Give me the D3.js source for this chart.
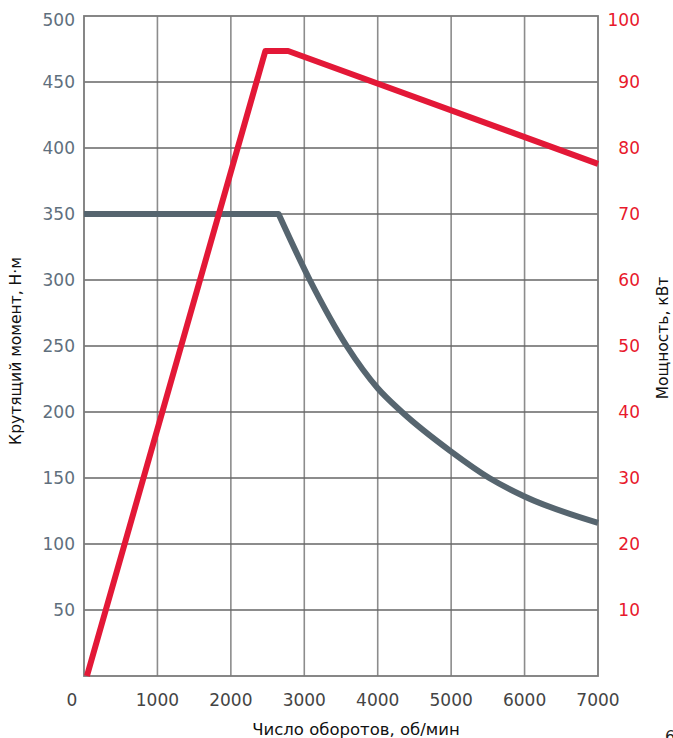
<!DOCTYPE html>
<html lang="ru">
<head>
    <meta charset="UTF-8">
    <title>Крутящий момент и мощность</title>
    <style>
        body { margin: 0; background: #fff; }
        text { font-family: "DejaVu Sans", sans-serif; }
    </style>
</head>
<body>

    <svg id="svg" width="673" height="738"></svg>

    <script src="https://d3js.org/d3.v7.min.js"></script>
    <script>
        // rpm ticks and axis labels
        const rpmTicks = [0, 1000, 2000, 3000, 4000, 5000, 6000, 7000]
        const torqueTicks = [50, 100, 150, 200, 250, 300, 350, 400, 450, 500]
        const powerTicks = [10, 20, 30, 40, 50, 60, 70, 80, 90, 100]

        // torque curve, Н·м (flat part, then falling part)
        const torqueFlatRpm = [0, 2650]
        const torqueFlatVal = [350, 350]
        const torqueRpm = [2650, 3075, 3578, 4000, 4330, 5000, 5520, 6000, 7000]
        const torqueVal = [350, 300, 250, 218, 200, 170, 150, 136, 116]

        // power curve, кВт
        const powerRpm = [40, 2470, 2780, 7000]
        const powerVal = [0, 94.7, 94.7, 77.6]

        const svg = d3.select('#svg')

        const pLeft = 84, pRight = 598, pTop = 16, pBottom = 676

        const x = d3.scaleLinear().domain([0, 7000]).range([pLeft, pRight])
        const yT = d3.scaleLinear().domain([0, 500]).range([pBottom, pTop])
        const yP = d3.scaleLinear().domain([0, 100]).range([pBottom, pTop])

        // grid
        svg.append('g')
            .selectAll('line')
            .data(rpmTicks.slice(1, -1))
            .enter()
            .append('line')
            .attr('x1', d => x(d)).attr('x2', d => x(d))
            .attr('y1', pTop).attr('y2', pBottom)
            .attr('stroke', '#8c8c8c')
            .attr('stroke-width', 1.6)

        svg.append('g')
            .selectAll('line')
            .data(torqueTicks.slice(0, -1))
            .enter()
            .append('line')
            .attr('x1', pLeft).attr('x2', pRight)
            .attr('y1', d => yT(d)).attr('y2', d => yT(d))
            .attr('stroke', '#666')
            .attr('stroke-width', 1.6)

        svg.append('rect')
            .attr('x', pLeft).attr('y', pTop)
            .attr('width', pRight - pLeft).attr('height', pBottom - pTop)
            .attr('fill', 'none')
            .attr('stroke', '#7a7a7a')
            .attr('stroke-width', 1.8)

        // x labels
        svg.append('g')
            .selectAll('text')
            .data(rpmTicks)
            .enter()
            .append('text')
            .attr('x', d => d === 0 ? x(d) - 12 : x(d))
            .attr('y', 706)
            .attr('text-anchor', 'middle')
            .attr('font-size', 17)
            .attr('fill', '#444')
            .text(d => d)

        // left labels
        svg.append('g')
            .selectAll('text')
            .data(torqueTicks)
            .enter()
            .append('text')
            .attr('x', 75)
            .attr('y', d => yT(d) + (d === 500 ? 4 : 0))
            .attr('dy', '0.36em')
            .attr('text-anchor', 'end')
            .attr('font-size', 17)
            .attr('fill', '#5f6f7d')
            .text(d => d)

        // right labels, clipped at the edge like the source
        svg.append('clipPath').attr('id', 'rclip')
            .append('rect').attr('x', 600).attr('y', 0).attr('width', 39).attr('height', 738)

        svg.append('g')
            .attr('clip-path', 'url(#rclip)')
            .selectAll('text')
            .data(powerTicks)
            .enter()
            .append('text')
            .attr('x', 640)
            .attr('y', d => yP(d) + (d === 100 ? 4 : 0))
            .attr('dy', '0.36em')
            .attr('text-anchor', 'end')
            .attr('font-size', 17)
            .attr('fill', '#e8192c')
            .text(d => d)

        // lines
        const flatLine = d3.line()
            .x((d, i) => x(torqueFlatRpm[i]))
            .y(d => yT(d))

        const torqueLine = d3.line()
            .curve(d3.curveMonotoneX)
            .x((d, i) => x(torqueRpm[i]))
            .y(d => yT(d))

        const powerLine = d3.line()
            .x((d, i) => x(powerRpm[i]))
            .y(d => yP(d))

        svg.append('path')
            .attr('d', flatLine(torqueFlatVal) + torqueLine(torqueVal).replace(/^M/, 'L'))
            .attr('fill', 'none')
            .attr('stroke', '#56656f')
            .attr('stroke-width', 6)
            .attr('stroke-linejoin', 'round')

        svg.append('path')
            .attr('d', powerLine(powerVal))
            .attr('fill', 'none')
            .attr('stroke', '#e31837')
            .attr('stroke-width', 6)
            .attr('stroke-linejoin', 'round')

        // titles
        svg.append('text')
            .attr('transform', 'translate(21,351) rotate(-90)')
            .attr('text-anchor', 'middle')
            .attr('font-size', 15.5)
            .attr('fill', '#111')
            .text('Крутящий момент, Н·м')

        svg.append('text')
            .attr('transform', 'translate(668,338) rotate(-90)')
            .attr('text-anchor', 'middle')
            .attr('font-size', 15.5)
            .attr('fill', '#111')
            .text('Мощность, кВт')

        svg.append('text')
            .attr('x', 356).attr('y', 735)
            .attr('text-anchor', 'middle')
            .attr('font-size', 16.5)
            .attr('fill', '#111')
            .text('Число оборотов, об/мин')

        svg.append('text')
            .attr('x', 665).attr('y', 742)
            .attr('font-size', 16)
            .attr('fill', '#222')
            .text('6')
    </script>
</body>
</html>
